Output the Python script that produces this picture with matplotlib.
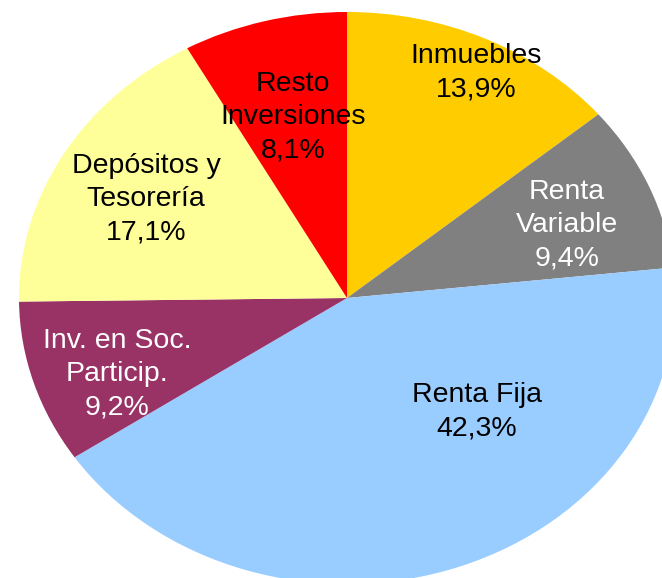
import matplotlib.pyplot as plt

# Distribución de inversiones (%)
labels = ['Inmuebles', 'Renta\nVariable', 'Renta Fija', 'Inv. en Soc.\nParticip.',
          'Depósitos y\nTesorería', 'Resto\nInversiones']
values = [13.9, 9.4, 42.3, 9.2, 17.1, 8.1]
colors = ['#FFCC00', '#808080', '#99CCFF', '#993366', '#FFFF99', '#FF0000']
text_colors = ['black', 'white', 'black', 'white', 'black', 'black']

# label centres in pixels of the original picture (x, y from top)
label_px = [(476, 73), (567, 225), (477, 412), (117, 374), (146, 199), (293, 117)]

W, H = 662, 578
cx, cy, rx, ry = 347, 298, 328, 286

plt.rcParams['font.family'] = ['Liberation Sans', 'DejaVu Sans']

fig = plt.figure(figsize=(W / 100, H / 100), dpi=100)
# the pie is an ellipse, partly cut off at the right and bottom
ax = fig.add_axes([(cx - rx) / W, (H - cy - ry) / H, 2 * rx / W, 2 * ry / H])
ax.pie(values, colors=colors, startangle=90, counterclock=False,
       wedgeprops=dict(linewidth=0))
ax.set_aspect('auto')
ax.set_xlim(-1, 1)
ax.set_ylim(-1, 1)
ax.axis('off')

for lab, v, tc, (px, py) in zip(labels, values, text_colors, label_px):
    txt = lab + '\n' + f'{v:.1f}%'.replace('.', ',')
    ax.text((px - cx) / rx, (cy - py) / ry, txt, ha='center', va='center',
            color=tc, fontsize=20.5, linespacing=1.36, multialignment='center')

fig.savefig('out.png', dpi=100)
